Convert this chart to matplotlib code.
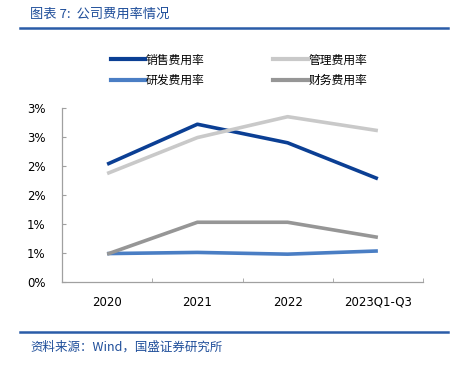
import math
import matplotlib
matplotlib.use("Agg")
import matplotlib.pyplot as plt
from matplotlib.ticker import FuncFormatter, MultipleLocator
from matplotlib.lines import Line2D

plt.rcParams['font.family'] = ['Noto Sans CJK SC', 'DejaVu Sans']

categories = ["2020", "2021", "2022", "2023Q1-Q3"]
series_names = ["销售费用率", "管理费用率", "研发费用率", "财务费用率"]
sales = [2.03, 2.72, 2.40, 1.78]
admin = [1.87, 2.49, 2.85, 2.61]
rnd = [0.49, 0.51, 0.48, 0.535]
fin = [0.48, 1.03, 1.03, 0.77]
colors = ["#0B3F94", "#C9C9C9", "#4A7EC4", "#969696"]

fig = plt.figure(figsize=(4.5, 3.68), dpi=100)
ax = fig.add_axes([62/450, 1-282/368, (423-62)/450, (282-108)/368])

x = list(range(len(categories)))
for vals, c, n in zip([sales, admin, rnd, fin], colors, series_names):
    ax.plot(x, vals, color=c, lw=2.6, label=n, solid_capstyle='butt')

ax.set_xlim(-0.5, 3.5)
ax.set_ylim(0, 3.0)
ax.yaxis.set_major_locator(MultipleLocator(0.5))
ax.yaxis.set_major_formatter(FuncFormatter(lambda v, p: f"{int(math.floor(v + 0.5 + 1e-9))}%"))
ax.set_xticks(x)
ax.set_xticklabels(categories)
ax.set_xticks([-0.5 + i for i in range(5)], minor=True)
ax.tick_params(axis='x', which='major', length=0, pad=10, labelsize=8.5)
ax.tick_params(axis='x', which='minor', length=3, direction='in', color='#A0A0A0')
ax.tick_params(axis='y', length=3, direction='in', color='#A0A0A0', labelsize=8.5, pad=12)
for lab in ax.get_xticklabels() + ax.get_yticklabels():
    lab.set_fontfamily('DejaVu Sans')
for s in ['top', 'right']:
    ax.spines[s].set_visible(False)
for s in ['left', 'bottom']:
    ax.spines[s].set_color('#A0A0A0')
    ax.spines[s].set_linewidth(0.9)

order = [0, 2, 1, 3]
handles = [Line2D([0], [0], color=colors[i], lw=3) for i in order]
labels = [series_names[i] for i in order]
fig.legend(handles, labels, loc='upper left', bbox_to_anchor=(100/450, 1-43/368),
           ncol=2, frameon=False, fontsize=8.5, handlelength=2.9, handletextpad=0.1,
           columnspacing=5.8, labelspacing=0.65)

title_color = "#1F4E9A"
fig.text(30/450, 1-14/368, "图表 7:  公司费用率情况", color=title_color, fontsize=9.5,
         style='italic', va='center', ha='left')
fig.add_artist(Line2D([20/450, 448/450], [1-28/368, 1-28/368], color="#2A5CA8", lw=1.8))
fig.add_artist(Line2D([20/450, 448/450], [1-331.5/368, 1-331.5/368], color="#2A5CA8", lw=1.8))
fig.text(30/450, 1-347/368, "资料来源：Wind，国盛证券研究所", color=title_color, fontsize=9,
         style='italic', va='center', ha='left')

fig.savefig("out.png", dpi=100)
